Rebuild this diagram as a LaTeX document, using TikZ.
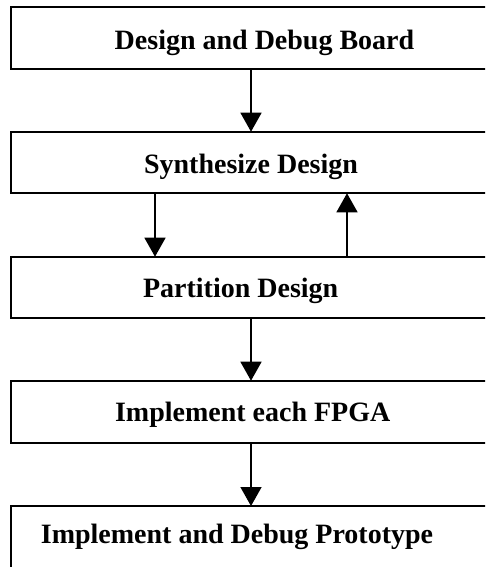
\documentclass[tikz,border=0pt]{standalone}
\usepackage{fontspec}
\setmainfont{Liberation Serif}
\usetikzlibrary{arrows.meta}
\begin{document}
\begin{tikzpicture}[x=1pt,y=-1pt,
  stagebox/.style={draw, line width=1.8pt, rectangle, inner sep=0pt, outer sep=0pt, anchor=north west, minimum width=520pt},
  stagetext/.style={font=\fontsize{28}{30}\selectfont\bfseries, anchor=base, inner sep=0pt},
  flow/.style={line width=1.5pt, -{Triangle[length=19pt,width=21pt]}}]
\useasboundingbox (0,0) rectangle (485,567);
\clip (0,0) rectangle (485,567);
\fill[white] (0,0) rectangle (485,567);
\node[stagebox, minimum height=61.7pt] (b1) at (11,7.3) {};
\node[stagebox, minimum height=61.6pt] (b2) at (11,131.7) {};
\node[stagebox, minimum height=61.6pt] (b3) at (11,256.7) {};
\node[stagebox, minimum height=62.6pt] (b4) at (11,380.7) {};
\node[stagebox, minimum height=100pt] (b5) at (11,506) {};
\node[stagetext] (t1) at (264.5,50) {Design and Debug Board};
\node[stagetext] (t2) at (251,173.3) {Synthesize Design};
\node[stagetext] (t3) at (240.7,297.3) {Partition Design};
\node[stagetext] (t4) at (252.7,421.7) {Implement each FPGA};
\node[stagetext] (t5) at (237,543.3) {Implement and Debug Prototype};
\coordinate (cm) at (251,0);
\coordinate (cl) at (155,0);
\coordinate (cr) at (347,0);
\draw[flow] (cm |- b1.south) -- (cm |- b2.north);
\draw[flow] (cl |- b2.south) -- (cl |- b3.north);
\draw[flow] (cr |- b3.north) -- (cr |- b2.south);
\draw[flow] (cm |- b3.south) -- (cm |- b4.north);
\draw[flow] (cm |- b4.south) -- (cm |- b5.north);
\end{tikzpicture}
\end{document}
